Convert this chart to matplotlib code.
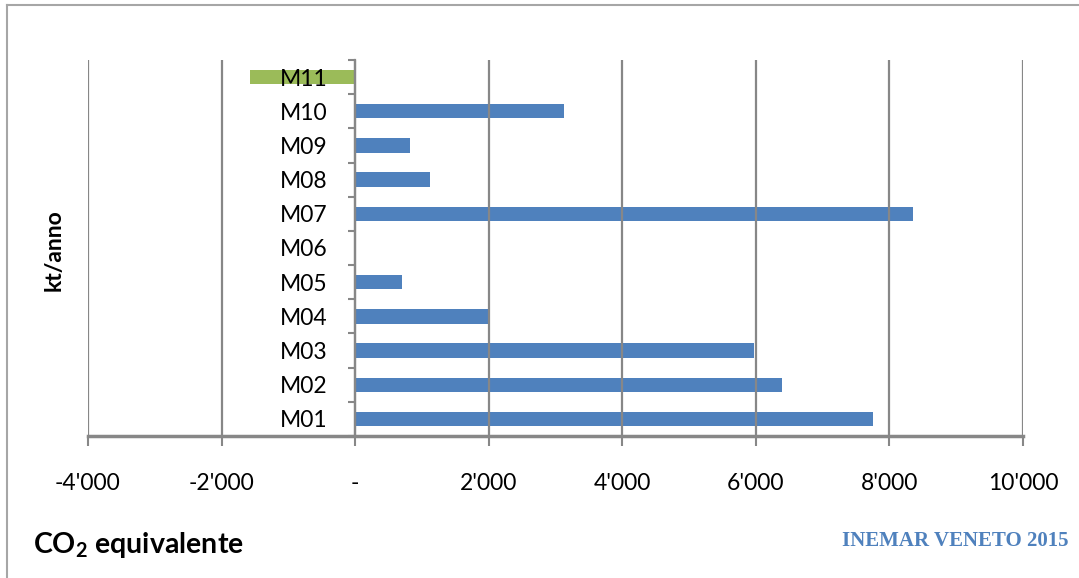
import matplotlib
matplotlib.use("Agg")
import matplotlib.pyplot as plt
from matplotlib.lines import Line2D

# Emissions by macrosector, kt/anno of CO2 equivalent
categories = ["M01", "M02", "M03", "M04", "M05", "M06",
              "M07", "M08", "M09", "M10", "M11"]
values = [7760, 6385, 5970, 1990, 700, 0, 8360, 1120, 820, 3130, -1570]
xticks = [-4000, -2000, 0, 2000, 4000, 6000, 8000, 10000]
xtick_labels = ["-4'000", "-2'000", "-", "2'000", "4'000", "6'000", "8'000", "10'000"]

BLUE = "#4F81BD"
GREEN = "#9BBB59"
GRID = "#878787"

plt.rcParams["font.family"] = ["Lato", "DejaVu Sans"]
plt.rcParams["mathtext.fontset"] = "custom"
plt.rcParams["mathtext.rm"] = "Lato"
plt.rcParams["mathtext.bf"] = "Lato:bold"

fig = plt.figure(figsize=(10.79, 5.78), dpi=100)
ax = fig.add_axes([88 / 1079, 1 - 436 / 578, (1023 - 88) / 1079, (436 - 60) / 578])

ypos = list(range(len(categories)))
colors = [GREEN if v < 0 else BLUE for v in values]
ax.barh(ypos, values, height=0.42, color=colors, zorder=1)

ax.set_xlim(-4000, 10000)
ax.set_ylim(-0.5, len(categories) - 0.5)

ax.set_xticks(xticks)
ax.set_xticklabels(xtick_labels)
ax.tick_params(axis="x", direction="out", length=7, width=1.5, color=GRID,
               pad=20, labelsize=16.5)

ax.set_yticks(ypos)
ax.set_yticklabels(categories)
ax.tick_params(axis="y", which="major", length=0, pad=20, labelsize=16.5)
ax.set_yticks([i - 0.5 for i in range(len(categories) + 1)], minor=True)
ax.tick_params(axis="y", which="minor", direction="out", length=5, width=1.5, color=GRID)

ax.grid(axis="x", color=GRID, linewidth=1.6)
ax.grid(axis="y", visible=False)

for side in ("top", "right"):
    ax.spines[side].set_visible(False)
ax.spines["left"].set_position(("data", 0))
ax.spines["left"].set_color(GRID)
ax.spines["left"].set_linewidth(1.6)
ax.spines["bottom"].set_color(GRID)
ax.spines["bottom"].set_linewidth(2.5)

fig.text(54 / 1079, 1 - 250 / 578, "kt/anno", rotation=90, fontsize=16.5,
         fontweight="bold", ha="center", va="center")
fig.text(33 / 1079, 1 - 545 / 578, r"CO$_\mathbf{2}$ equivalente", fontsize=20.5,
         fontweight="bold", ha="left", va="center")
fig.text(1068 / 1079, 1 - 541 / 578, "INEMAR VENETO 2015", fontsize=15,
         fontweight="bold", color=BLUE, ha="right", va="center",
         family=["Liberation Serif", "DejaVu Serif"])

# outer frame
fig.add_artist(Line2D([7 / 1079, 7 / 1079], [0, 1 - 5 / 578], transform=fig.transFigure,
                      color="#A6A6A6", linewidth=1.5))
fig.add_artist(Line2D([7 / 1079, 1], [1 - 5 / 578, 1 - 5 / 578], transform=fig.transFigure,
                      color="#A6A6A6", linewidth=1.5))

fig.savefig("out.png", dpi=100)
